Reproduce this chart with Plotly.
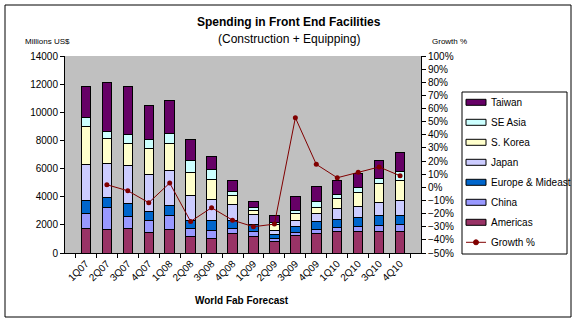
import plotly.graph_objects as go

quarters = ["1Q07", "2Q07", "3Q07", "4Q07", "1Q08", "2Q08", "3Q08", "4Q08",
            "1Q09", "2Q09", "3Q09", "4Q09", "1Q10", "2Q10", "3Q10", "4Q10"]
americas = [1750, 1650, 1750, 1470, 1680, 1160, 1040, 1400, 1205, 800, 1255, 1400, 1510, 1540, 1510, 1510]
china = [1040, 1590, 850, 850, 990, 590, 590, 350, 335, 240, 215, 300, 285, 375, 475, 525]
europe = [970, 680, 920, 660, 710, 590, 660, 590, 515, 285, 445, 520, 595, 615, 685, 635]
japan = [2530, 2410, 2700, 2600, 2505, 1750, 1520, 1110, 685, 305, 425, 595, 780, 800, 925, 1040]
skorea = [2665, 1800, 1580, 1840, 1895, 1630, 1415, 640, 310, 405, 475, 425, 710, 975, 1345, 1415]
seasia = [705, 470, 615, 680, 705, 870, 705, 285, 190, 140, 235, 400, 280, 355, 360, 640]
taiwan = [2200, 3500, 3445, 2415, 2365, 1470, 900, 775, 400, 470, 990, 1110, 990, 1010, 1270, 1395]
growth = [None, 2, -2.6, -11.7, 3.3, -26, -15.5, -25, -30, -28, 53, 17.5, 7.3, 11.4, 15.5, 8.8]

series_names = ["Americas", "China", "Europe & Mideast", "Japan", "S. Korea", "SE Asia", "Taiwan"]
series_values = [americas, china, europe, japan, skorea, seasia, taiwan]
series_colors = ["#993366", "#9999FF", "#0066CC", "#CCCCFF", "#FFFFCC", "#CCFFFF", "#660066"]
growth_name = "Growth %"
growth_color = "#800000"

FONT = "Arial, 'Liberation Sans', sans-serif"
W, H = 576, 323
L, R, T, B = 65, 155, 56, 70
PW, PH = W - L - R, H - T - B


def px(x):
    return (x - L) / PW


def py(y):
    return (H - B - y) / PH


fig = go.Figure()
for name, vals, col in zip(series_names, series_values, series_colors):
    fig.add_trace(go.Bar(x=quarters, y=vals, name=name, marker_color=col,
                         marker_line=dict(color="black", width=1), showlegend=False))

fig.add_trace(go.Scatter(x=quarters, y=growth, name=growth_name, yaxis="y2", mode="lines+markers",
                         line=dict(color=growth_color, width=1),
                         marker=dict(color=growth_color, size=5, symbol="circle"),
                         showlegend=False))

shapes = []
annotations = []

# outer frame
shapes.append(dict(type="rect", xref="paper", yref="paper", x0=px(5), x1=px(571), y0=py(317), y1=py(5),
                   line=dict(color="black", width=1), fillcolor="rgba(0,0,0,0)", layer="below"))

# custom legend
shapes.append(dict(type="rect", xref="paper", yref="paper", x0=px(462), x1=px(567), y0=py(254), y1=py(92),
                   line=dict(color="black", width=1), fillcolor="white"))
legend_items = list(zip(series_names, series_colors))[::-1]
y0 = 102.3
step = 20
for i, (name, col) in enumerate(legend_items):
    yc = y0 + i * step
    shapes.append(dict(type="rect", xref="paper", yref="paper", x0=px(466), x1=px(486),
                       y0=py(yc + 3), y1=py(yc - 3), line=dict(color="black", width=1), fillcolor=col))
    annotations.append(dict(xref="paper", yref="paper", x=px(489), y=py(yc), text=name, showarrow=False,
                            xanchor="left", yanchor="middle", font=dict(family=FONT, size=10, color="black")))
yc = y0 + len(legend_items) * step
shapes.append(dict(type="line", xref="paper", yref="paper", x0=px(466), x1=px(486), y0=py(yc), y1=py(yc),
                   line=dict(color=growth_color, width=1)))
shapes.append(dict(type="circle", xref="paper", yref="paper", x0=px(473.5), x1=px(478.5),
                   y0=py(yc + 2.5), y1=py(yc - 2.5), line=dict(color=growth_color, width=1),
                   fillcolor=growth_color))
annotations.append(dict(xref="paper", yref="paper", x=px(489), y=py(yc), text=growth_name, showarrow=False,
                        xanchor="left", yanchor="middle", font=dict(family=FONT, size=10, color="black")))

# titles
annotations.append(dict(xref="paper", yref="paper", x=px(289), y=py(22), text="<b>Spending in Front End Facilities</b>",
                        showarrow=False, xanchor="center", yanchor="middle",
                        font=dict(family=FONT, size=12, color="black")))
annotations.append(dict(xref="paper", yref="paper", x=px(289), y=py(39), text="(Construction + Equipping)",
                        showarrow=False, xanchor="center", yanchor="middle",
                        font=dict(family=FONT, size=12, color="black")))
annotations.append(dict(xref="paper", yref="paper", x=px(23), y=py(41), text="Millions US$",
                        showarrow=False, xanchor="left", yanchor="middle",
                        font=dict(family=FONT, size=8, color="black")))
annotations.append(dict(xref="paper", yref="paper", x=px(430), y=py(41), text="Growth %",
                        showarrow=False, xanchor="left", yanchor="middle",
                        font=dict(family=FONT, size=8, color="black")))
annotations.append(dict(xref="paper", yref="paper", x=px(242), y=py(300), text="<b>World Fab Forecast</b>",
                        showarrow=False, xanchor="center", yanchor="middle",
                        font=dict(family=FONT, size=10, color="black")))

fig.update_layout(
    width=W, height=H,
    margin=dict(l=L, r=R, t=T, b=B, pad=0),
    barmode="stack", bargap=0.55,
    plot_bgcolor="#C0C0C0", paper_bgcolor="white",
    font=dict(family=FONT, size=10, color="black"),
    showlegend=False,
    xaxis=dict(type="category", showgrid=False, showline=True, linecolor="black", linewidth=1,
               ticks="outside", ticklen=4, tickcolor="black", tickson="boundaries",
               tickangle=-45, tickfont=dict(family=FONT, size=10, color="black"), mirror=False),
    yaxis=dict(range=[0, 14000], dtick=2000, tickformat="d", showgrid=False, showline=True,
               linecolor="black", linewidth=1,
               ticks="outside", ticklen=4, tickcolor="black", zeroline=False,
               tickfont=dict(family=FONT, size=10, color="black")),
    yaxis2=dict(range=[-50, 100], dtick=10, overlaying="y", side="right", showgrid=False, showline=True,
                linecolor="black", linewidth=1, ticks="outside", ticklen=4, tickcolor="black",
                zeroline=False, ticksuffix="%", tickfont=dict(family=FONT, size=10, color="black")),
    shapes=shapes, annotations=annotations,
)

fig.write_html("out.html")
